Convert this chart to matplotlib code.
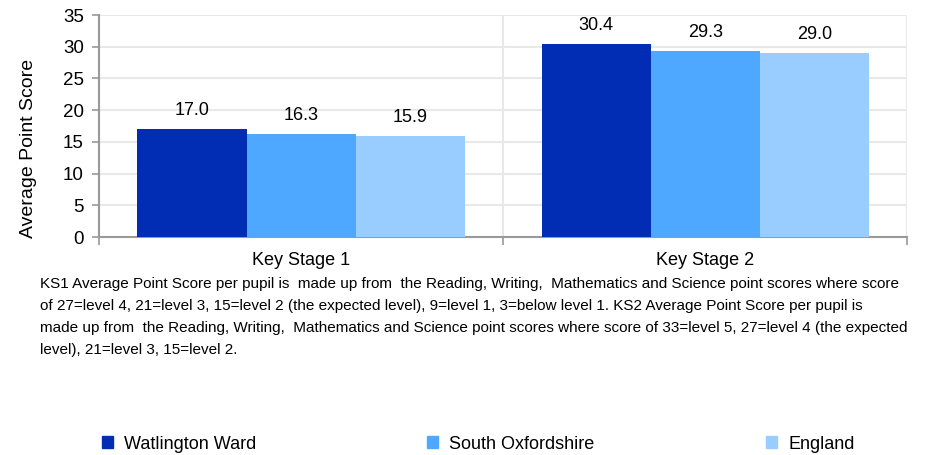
import numpy as np
import matplotlib
matplotlib.use("Agg")
import matplotlib.pyplot as plt
from matplotlib.patches import Patch

plt.rcParams['font.family'] = ['Liberation Sans', 'DejaVu Sans']

# data
stages = ["Key Stage 1", "Key Stage 2"]
series = ["Watlington Ward", "South Oxfordshire", "England"]
watlington = [17.0, 30.4]
south_oxon = [16.3, 29.3]
england = [15.9, 29.0]
colors = ["#002DB3", "#4FA8FF", "#99CCFF"]

note = ("KS1 Average Point Score per pupil is  made up from  the Reading, Writing,  Mathematics and Science point scores where score\n"
        "of 27=level 4, 21=level 3, 15=level 2 (the expected level), 9=level 1, 3=below level 1. KS2 Average Point Score per pupil is\n"
        "made up from  the Reading, Writing,  Mathematics and Science point scores where score of 33=level 5, 27=level 4 (the expected\n"
        "level), 21=level 3, 15=level 2.")

fig = plt.figure(figsize=(9.52, 4.55), dpi=100)
ax = fig.add_axes([0.104, 0.479, 0.849, 0.488])

x = np.arange(len(stages))
w = 0.27
for i, (vals, c) in enumerate(zip([watlington, south_oxon, england], colors)):
    bars = ax.bar(x + (i - 1) * w, vals, w, color=c, zorder=3)
    ax.bar_label(bars, labels=[f"{v:.1f}" for v in vals], padding=7, fontsize=13)

ax.set_xlim(-0.5, 1.5)
ax.set_ylim(0, 35)
ax.set_yticks(range(0, 36, 5))
ax.set_xticks(x)
ax.set_xticklabels(stages, fontsize=13)
ax.set_xticks([-0.5, 0.5, 1.5], minor=True)
ax.tick_params(axis='x', which='major', length=0, pad=11)
ax.tick_params(axis='x', which='minor', length=6, color='#999999', width=1.2)
ax.tick_params(axis='y', labelsize=13.5, length=5, color='#999999', width=1.2, pad=6)
ax.grid(axis='y', color='#e8e8e8', lw=1.5, zorder=0)
ax.grid(axis='x', which='minor', color='#e8e8e8', lw=1.5, zorder=0)
for s in ['top', 'right']:
    ax.spines[s].set_visible(False)
for s in ['left', 'bottom']:
    ax.spines[s].set_color('#999999')
    ax.spines[s].set_linewidth(1.5)
ax.set_ylabel("Average Point Score", fontsize=14)
ax.yaxis.set_label_coords(-0.077, 0.40)

fig.text(0.042, 0.392, note, fontsize=11, va='top', ha='left', linespacing=1.75)

# legend entries placed across the bottom
leg_x = [0.107, 0.449, 0.805]
for name, c, lx in zip(series, colors, leg_x):
    fig.legend(handles=[Patch(color=c, label=name)], loc='center left',
               bbox_to_anchor=(lx, 0.024), frameon=False, fontsize=13,
               handlelength=0.6, handleheight=0.6, handletextpad=0.6,
               borderaxespad=0, borderpad=0)

fig.savefig("out.png", dpi=100)
